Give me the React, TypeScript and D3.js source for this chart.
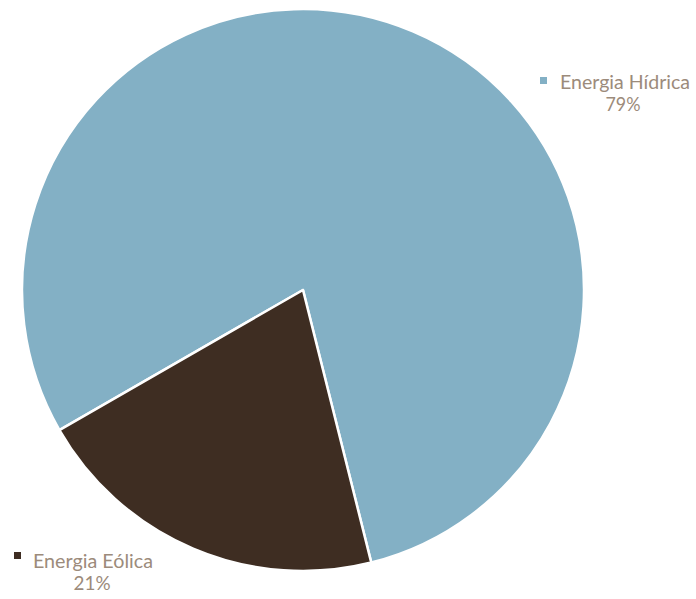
import React from "react";
import * as d3 from "d3";

const categories = ["Energia Hídrica", "Energia Eólica"];
const values = [79.4, 20.6];
const colors = ["#83B0C5", "#3E2D22"];

const W = 696;
const H = 599;
const cx = 303;
const cy = 290;
const R = 281;
const startDeg = 240.1;

export default function App() {
  const total = d3.sum(values);
  const pie = d3
    .pie<number>()
    .sort(null)
    .value((d) => d)
    .startAngle((startDeg * Math.PI) / 180)
    .endAngle((startDeg * Math.PI) / 180 + 2 * Math.PI);
  const arcs = pie(values);
  const arcGen = d3.arc<d3.PieArcDatum<number>>().innerRadius(0).outerRadius(R);

  const legendPos = [
    { sx: 540, sy: 77, tx: 560, ty: 89, tl: 130, px: 623, py: 111, pl: 35 },
    { sx: 14, sy: 552, tx: 33, ty: 568, tl: 120, px: 92, py: 590, pl: 37 },
  ];
  const textColor = "#9C8B7B";
  const font = "'Lato', 'DejaVu Sans', sans-serif";

  return (
    <svg
      width={W}
      height={H}
      style={{ position: "absolute", left: 0, top: 0, background: "#fff" }}
    >
      <g transform={`translate(${cx},${cy})`}>
        {arcs.map((a, i) => (
          <path
            key={i}
            d={arcGen(a) as string}
            fill={colors[i]}
            stroke="#fff"
            strokeWidth={2.5}
            strokeLinejoin="round"
          />
        ))}
      </g>
      {categories.map((c, i) => {
        const p = legendPos[i];
        const pct = `${Math.round((values[i] / total) * 100)}%`;
        return (
          <g key={c} fontFamily={font} fontSize={18.5} fill={textColor}>
            <rect x={p.sx} y={p.sy} width={7} height={7} fill={colors[i]} />
            <text x={p.tx} y={p.ty} textLength={p.tl} lengthAdjust="spacingAndGlyphs">
              {c}
            </text>
            <text
              x={p.px - p.pl / 2}
              y={p.py}
              textLength={p.pl}
              lengthAdjust="spacingAndGlyphs"
            >
              {pct}
            </text>
          </g>
        );
      })}
    </svg>
  );
}
